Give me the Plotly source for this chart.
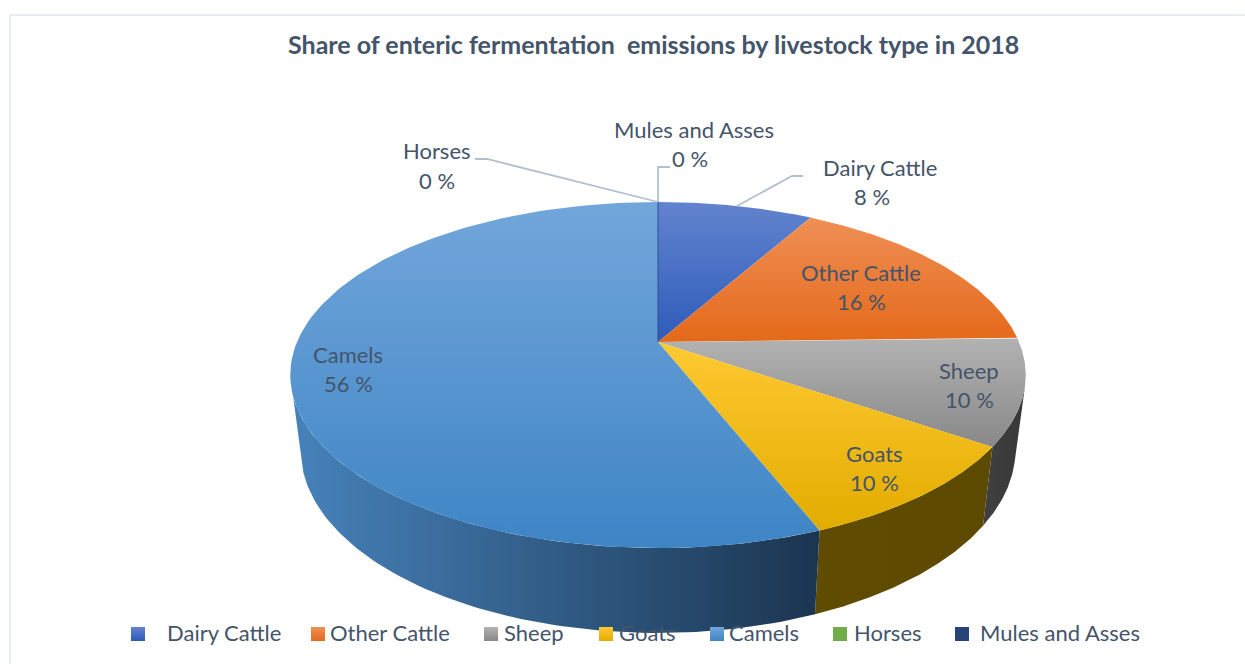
import numpy as np
import plotly.graph_objects as go

TITLE = "Share of enteric fermentation  emissions by livestock type in 2018"
categories = ["Dairy Cattle", "Other Cattle", "Sheep", "Goats", "Camels", "Horses", "Mules and Asses"]
values = [8.2, 16.4, 9.9, 9.5, 56.0, 0.0, 0.0]
percent_labels = ["8 %", "16 %", "10 %", "10 %", "56 %", "0 %", "0 %"]

# projection of the tilted disc onto the page (pixels)
CX, CY, A, B, K = 658.0, 342.0, 361.0, 166.7, 0.1907
SX, SY, DROP = 0.972, 1.06, 72.6
WALL_FROM, WALL_TO = 105.0, 252.0

TOP_COLORS = [("#6283CE", "#2D5CBA"), ("#EF8F55", "#E4691A"), ("#B2B2B2", "#888888"),
              ("#FFC932", "#E2AC00"), ("#72A6DB", "#3E85C5"), ("#70AD47", "#70AD47"), ("#264478", "#264478")]
WALL_COLORS = [("#2A4A8A", "#1F3864"), ("#7A3C10", "#7A3C10"), ("#404040", "#383838"),
               ("#604C00", "#5C4A00"), ("#4682BA", "#1B3550"), ("#3E6B25", "#3E6B25"), ("#14264A", "#14264A")]
TEXT = "#44546A"
FONT = "Lato"
LEADER = "#B4BFCE"


def top(theta):
    t = np.radians(theta)
    X, Y = np.sin(t), np.cos(t)
    w = 1 + K * Y
    return CX + A * X / w, CY - B * Y / w


def bottom(theta):
    x, y = top(theta)
    return CX + SX * (x - CX), CY + DROP + SY * (y - CY)


fig = go.Figure()
edges = np.concatenate([[0], np.cumsum(values)]) * 3.6

# side walls first, top faces over them
for i in range(len(values)):
    a, b = max(edges[i], WALL_FROM), min(edges[i + 1], WALL_TO)
    if b <= a:
        continue
    th = np.linspace(a, b, 80)
    tx, ty = top(th)
    bx, by = bottom(th)
    xs = np.concatenate([tx, bx[::-1], tx[:1]])
    ys = np.concatenate([ty, by[::-1], ty[:1]])
    fig.add_trace(go.Scatter(
        x=xs, y=ys, mode="lines", line=dict(width=0), fill="toself", hoverinfo="skip", showlegend=False,
        fillgradient=dict(type="horizontal", colorscale=[[0, WALL_COLORS[i][0]], [1, WALL_COLORS[i][1]]])))

for i in range(len(values)):
    a, b = edges[i], edges[i + 1]
    if b <= a:
        continue
    th = np.linspace(a, b, 160)
    tx, ty = top(th)
    xs = np.concatenate([[CX], tx, [CX]])
    ys = np.concatenate([[CY], ty, [CY]])
    fig.add_trace(go.Scatter(
        x=xs, y=ys, mode="lines", line=dict(width=0), fill="toself", hoverinfo="skip", showlegend=False,
        fillgradient=dict(type="vertical", colorscale=[[0, TOP_COLORS[i][1]], [1, TOP_COLORS[i][0]]])))

# divider for the zero-size slices at the top of the pie
fig.add_trace(go.Scatter(x=[CX, CX], y=[CY, top(0.0)[1]], mode="lines", hoverinfo="skip", showlegend=False,
                         line=dict(color="#2F4F8F", width=1)))

# leader lines
for lx, ly in [([737, 792, 803], [206, 176, 176]),
               ([658, 487, 475], [202, 159, 159]),
               ([658, 658, 670], [202, 167, 167])]:
    fig.add_trace(go.Scatter(x=lx, y=ly, mode="lines", hoverinfo="skip", showlegend=False,
                             line=dict(color=LEADER, width=1.8)))

# legend swatches
swatch_x = [138, 318, 491, 606, 717, 840, 962]
text_x = [165, 328, 502, 617, 727, 852, 978]
for i, c in enumerate(categories):
    fig.add_trace(go.Scatter(
        x=[swatch_x[i]], y=[634], mode="markers", hoverinfo="skip", showlegend=False,
        marker=dict(symbol="square", size=14, color=TOP_COLORS[i][0],
                    gradient=dict(type="vertical", color=TOP_COLORS[i][1]), line=dict(width=0))))
    fig.add_annotation(x=text_x[i], y=632, text=c, showarrow=False, xanchor="left", yanchor="middle",
                       font=dict(family=FONT, size=22, color=TEXT))

# data labels: name line and percent line
name_pos = [(880, 167), (861, 272), (969, 370), (874, 453), (348, 354), (437, 150), (694, 129)]
pct_pos = [(872, 196), (861, 301), (969, 399), (874, 482), (348, 383), (437, 180), (690, 158)]
for i, c in enumerate(categories):
    fig.add_annotation(x=name_pos[i][0], y=name_pos[i][1], text=c, showarrow=False,
                       font=dict(family=FONT, size=22, color=TEXT))
    fig.add_annotation(x=pct_pos[i][0], y=pct_pos[i][1], text=percent_labels[i], showarrow=False,
                       font=dict(family=FONT, size=22, color=TEXT))

fig.add_annotation(x=653, y=44, text="<b>" + TITLE + "</b>", showarrow=False,
                   font=dict(family=FONT, size=25, color=TEXT))

# chart frame
fig.add_shape(type="line", x0=10, x1=1245, y0=15, y1=15, line=dict(color="#E2E6EF", width=1.5))
fig.add_shape(type="line", x0=10, x1=10, y0=15, y1=664, line=dict(color="#E2E6EF", width=1.5))

fig.update_layout(
    width=1245, height=664, margin=dict(l=0, r=0, t=0, b=0), paper_bgcolor="white", plot_bgcolor="white",
    xaxis=dict(range=[0, 1245], visible=False, fixedrange=True),
    yaxis=dict(range=[664, 0], visible=False, fixedrange=True),
    showlegend=False,
)
fig.write_html("out.html", config={"displayModeBar": False},
               post_script="document.body.style.margin='0';")
